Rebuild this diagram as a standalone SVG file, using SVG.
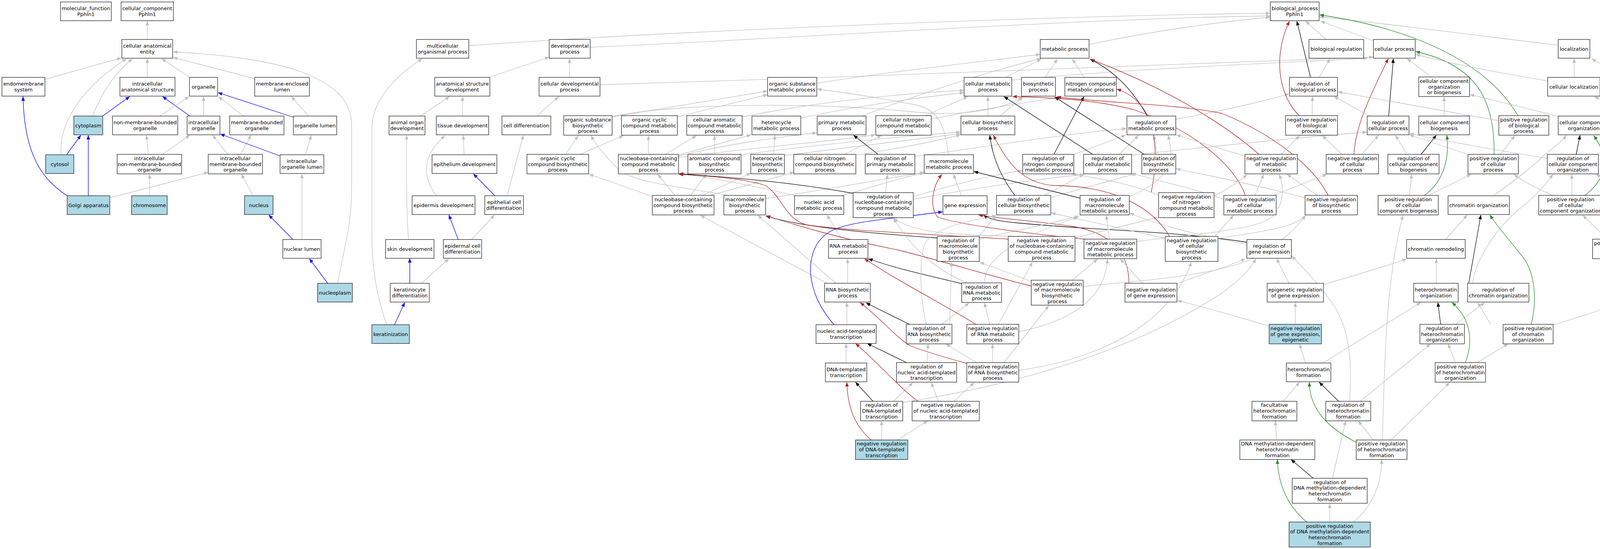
<svg xmlns="http://www.w3.org/2000/svg" width="4691" height="1405" viewBox="0 0 4691 1405">
<style>
text{font-family:'DejaVu Sans',Verdana,sans-serif;font-size:13px;text-anchor:middle;fill:#000}
.n rect{fill:#fff;stroke:#111;stroke-width:1.2}
.n.h rect{fill:#add8e6}
.e path{fill:none;stroke-width:1.3}
.e .g{stroke:#c0c0c0;marker-end:url(#ag)}
.e .b{stroke:#0000ff;marker-end:url(#ab)}
.e .k{stroke:#000;marker-end:url(#ak)}
.e .r{stroke:#b22222;marker-end:url(#ar)}
.e .v{stroke:#228b22;marker-end:url(#av)}
</style>
<defs>
<marker id="ag" viewBox="0 0 11 9" refX="11" refY="4.5" markerWidth="11" markerHeight="9" markerUnits="userSpaceOnUse" orient="auto"><path d="M0,0L11,4.5L0,9z" fill="#c0c0c0"/></marker>
<marker id="ab" viewBox="0 0 11 9" refX="11" refY="4.5" markerWidth="11" markerHeight="9" markerUnits="userSpaceOnUse" orient="auto"><path d="M0,0L11,4.5L0,9z" fill="#0000ff"/></marker>
<marker id="ak" viewBox="0 0 11 9" refX="11" refY="4.5" markerWidth="11" markerHeight="9" markerUnits="userSpaceOnUse" orient="auto"><path d="M0,0L11,4.5L0,9z" fill="#000"/></marker>
<marker id="ar" viewBox="0 0 11 9" refX="11" refY="4.5" markerWidth="11" markerHeight="9" markerUnits="userSpaceOnUse" orient="auto"><path d="M0,0L11,4.5L0,9z" fill="#b22222"/></marker>
<marker id="av" viewBox="0 0 11 9" refX="11" refY="4.5" markerWidth="11" markerHeight="9" markerUnits="userSpaceOnUse" orient="auto"><path d="M0,0L11,4.5L0,9z" fill="#228b22"/></marker>
</defs>
<rect width="4691" height="1405" fill="#fff"/>
<g id="connectors" class="e">
<path class="g" d="M377,101L377,54"/>
<path class="g" d="M115,203L311,148"/>
<path class="g" d="M156,395C150,300 230,210 324,150"/>
<path class="g" d="M237,297C255,250 285,195 339,150"/>
<path class="g" d="M377,198L377,150"/>
<path class="g" d="M485,198L414,150"/>
<path class="g" d="M652,201L443,147"/>
<path class="g" d="M864,725C890,600 900,560 900,480L900,320C900,260 860,220 782,188C700,155 560,138 443,133"/>
<path class="b" d="M263,297L332,247"/>
<path class="b" d="M486,297L416,247"/>
<path class="b" d="M172,501C110,460 62,400 59,247"/>
<path class="b" d="M171,395L207,346"/>
<path class="b" d="M226,501L226,346"/>
<path class="g" d="M409,297L484,247"/>
<path class="g" d="M521,297L521,247"/>
<path class="g" d="M623,297L559,247"/>
<path class="b" d="M751,300L558,237"/>
<path class="g" d="M790,297L746,247"/>
<path class="g" d="M380,395L375,346"/>
<path class="g" d="M416,395L486,346"/>
<path class="g" d="M583,395L544,346"/>
<path class="g" d="M616,395L643,346"/>
<path class="b" d="M717,399L564,343"/>
<path class="g" d="M782,396L797,346"/>
<path class="g" d="M282,506L533,441"/>
<path class="g" d="M383,501L383,446"/>
<path class="g" d="M648,501L618,446"/>
<path class="b" d="M750,613L688,550"/>
<path class="g" d="M773,613L773,445"/>
<path class="b" d="M839,725L792,662"/>
<path class="g" d="M1200,117C1700,80 2700,40 3252,34"/>
<path class="g" d="M1511,121C2000,100 2800,45 3252,41"/>
<path class="g" d="M1251,198L1406,146"/>
<path class="g" d="M1458,198L1458,150"/>
<path class="g" d="M1076,297L1151,247"/>
<path class="g" d="M1184,297L1184,247"/>
<path class="g" d="M1375,297L1430,247"/>
<path class="g" d="M1188,396L1186,346"/>
<path class="g" d="M1117,501C1080,450 1080,400 1139,347"/>
<path class="b" d="M1267,501L1212,445"/>
<path class="g" d="M1298,501L1340,346"/>
<path class="g" d="M1046,613C1040,550 1040,420 1041,346"/>
<path class="b" d="M1173,613L1149,550"/>
<path class="g" d="M1207,613L1266,550"/>
<path class="b" d="M1049,725L1049,661"/>
<path class="g" d="M1079,725L1149,662"/>
<path class="b" d="M1010,831L1036,774"/>
<path class="g" d="M990,831C965,760 952,690 952,600L952,330C952,250 1020,190 1081,150"/>
<path class="g" d="M1536,217C2200,195 3000,170 3516,146"/>
<path class="g" d="M2787,114C2950,80 3100,58 3252,44"/>
<path class="g" d="M2575,198L2666,151"/>
<path class="g" d="M2675,198L2707,151"/>
<path class="g" d="M2775,198L2745,151"/>
<path class="g" d="M2091,213C2300,180 2500,160 2663,139"/>
<path class="g" d="M2207,297C2300,260 2500,190 2665,150"/>
<path class="g" d="M2590,205C2900,175 3300,160 3502,149"/>
<path class="g" d="M1567,299L1965,233"/>
<path class="g" d="M1734,299L1965,242"/>
<path class="g" d="M2428,396C2420,320 2400,280 2346,269C2250,250 2150,235 2092,228"/>
<path class="g" d="M1900,299C2100,260 2300,240 2468,231"/>
<path class="g" d="M2050,302C2200,270 2350,250 2468,237"/>
<path class="g" d="M2366,297L2478,247"/>
<path class="g" d="M2384,305C2500,280 2650,260 2718,247"/>
<path class="g" d="M2529,297L2529,247"/>
<path class="g" d="M2560,297L2620,247"/>
<path class="g" d="M1567,298C1750,262 2100,262 2346,287C2450,297 2560,285 2618,248"/>
<path class="g" d="M1448,395L1480,347"/>
<path class="g" d="M1485,395C1530,375 1560,362 1596,347"/>
<path class="g" d="M1660,395L1660,347"/>
<path class="g" d="M1703,395L1783,347"/>
<path class="g" d="M1737,397L1923,345"/>
<path class="g" d="M1737,400C1850,370 2000,350 2091,340"/>
<path class="g" d="M1737,403C1950,375 2150,360 2241,345"/>
<path class="g" d="M1829,395L1829,347"/>
<path class="g" d="M1897,396C2100,370 2300,350 2459,338"/>
<path class="g" d="M1980,395L1984,346"/>
<path class="g" d="M2008,398C2200,375 2350,355 2459,342"/>
<path class="g" d="M2163,395L2257,346"/>
<path class="g" d="M2191,397C2300,380 2400,360 2459,345"/>
<path class="k" d="M2248,395L2185,346"/>
<path class="g" d="M2342,400C2500,380 2700,345 2884,329"/>
<path class="g" d="M1728,500L1684,446"/>
<path class="g" d="M1768,500L1808,446"/>
<path class="g" d="M1798,500L1922,443"/>
<path class="g" d="M1818,500L2033,441"/>
<path class="g" d="M1670,503C1620,485 1580,470 1508,446"/>
<path class="g" d="M1960,508C2150,480 2250,460 2366,441"/>
<path class="g" d="M1863,500C1750,478 1620,470 1580,430C1550,400 1525,370 1513,347"/>
<path class="g" d="M2038,501C1950,480 1850,460 1740,443"/>
<path class="g" d="M2152,501C2250,475 2300,455 2366,443"/>
<path class="g" d="M2155,613L2117,550"/>
<path class="g" d="M2170,725L2170,662"/>
<path class="g" d="M2117,725L1793,551"/>
<path class="g" d="M2140,725L1940,551"/>
<path class="g" d="M2168,831L2168,774"/>
<path class="b" d="M2135,831C2100,790 2080,750 2075,700C2073,650 2090,610 2130,590C2180,565 2300,558 2413,542"/>
<path class="g" d="M2166,929L2166,879"/>
<path class="k" d="M2235,1027L2190,978"/>
<path class="g" d="M2287,1027L2337,979"/>
<path class="r" d="M2230,1126C2200,1100 2170,1060 2168,978"/>
<path class="g" d="M2257,1126L2257,1077"/>
<path class="g" d="M2298,1126L2375,1077"/>
<path class="k" d="M2185,495C2050,470 1900,455 1738,445"/>
<path class="g" d="M2267,493L2272,446"/>
<path class="g" d="M2338,503C2450,470 2550,445 2617,437"/>
<path class="g" d="M2338,510C2500,480 2650,460 2775,446"/>
<path class="k" d="M2937,297C2900,230 2850,180 2790,151"/>
<path class="r" d="M3223,395C3150,330 3000,230 2792,152"/>
<path class="g" d="M3010,305C3150,280 3250,255 3300,240"/>
<path class="k" d="M2698,395L2775,247"/>
<path class="g" d="M2749,395L2882,346"/>
<path class="k" d="M2797,395L2570,247"/>
<path class="g" d="M2865,395L2915,346"/>
<path class="g" d="M2897,397C3100,375 3350,350 3499,338"/>
<path class="k" d="M2929,395L2700,248"/>
<path class="g" d="M2962,395L2954,346"/>
<path class="r" d="M2947,493C2970,380 2960,260 2859,228"/>
<path class="g" d="M2966,500C2900,470 2800,455 2745,445"/>
<path class="g" d="M3108,502C3150,480 3170,465 3193,447"/>
<path class="g" d="M2461,501L2441,446"/>
<path class="k" d="M2598,500C2560,450 2540,400 2534,346"/>
<path class="g" d="M2673,500L2775,446"/>
<path class="g" d="M2690,505L2909,444"/>
<path class="k" d="M2765,507L2493,439"/>
<path class="g" d="M2890,504C2990,460 3010,420 2990,346"/>
<path class="r" d="M3188,500C3160,420 3050,330 2900,280C2800,255 2700,250 2592,247"/>
<path class="r" d="M3400,500C3360,420 3250,340 3128,290C3000,265 2850,265 2705,248"/>
<path class="g" d="M3133,510C3050,480 2950,460 2897,443"/>
<path class="g" d="M3341,506C3200,470 3100,450 3011,432"/>
<path class="k" d="M3192,620C3000,590 2800,590 2600,570C2550,565 2530,560 2518,550"/>
<path class="g" d="M3192,625C3050,600 2950,570 2892,545"/>
<path class="r" d="M2890,725C2890,660 2860,600 2750,580C2650,565 2560,560 2505,550"/>
<path class="k" d="M2399,609C2200,595 2050,580 1961,553"/>
<path class="g" d="M2506,605L2550,551"/>
<path class="g" d="M2507,612C2600,590 2700,570 2762,553"/>
<path class="r" d="M2581,612C2400,600 2150,590 2063,575C2010,560 2000,500 1960,475C1900,455 1800,450 1738,446"/>
<path class="g" d="M2600,605C2450,600 2350,600 2287,559"/>
<path class="g" d="M2752,609L2964,556"/>
<path class="r" d="M2787,613C2650,600 2450,575 2400,555C2380,530 2385,480 2411,446"/>
<path class="g" d="M2840,612L2832,551"/>
<path class="g" d="M2910,618C3050,600 3200,590 3250,560C3285,530 3290,490 3275,446"/>
<path class="r" d="M2994,605C2950,530 2850,475 2700,475C2620,470 2580,420 2543,346"/>
<path class="g" d="M2983,610L2691,545"/>
<path class="g" d="M3118,610C3250,590 3320,580 3342,551"/>
<path class="g" d="M3110,605L3158,551"/>
<path class="k" d="M2462,726C2400,710 2300,690 2223,662"/>
<path class="g" d="M2475,724C2420,700 2350,660 2287,559"/>
<path class="g" d="M2520,724C2520,680 2560,620 2760,556"/>
<path class="r" d="M2640,732C2550,710 2400,665 2300,640C2150,610 2050,580 1961,552"/>
<path class="g" d="M2640,720L2508,671"/>
<path class="g" d="M2745,717L2810,663"/>
<path class="g" d="M2773,733C2950,715 3150,705 3250,640C3300,600 3330,570 3342,551"/>
<path class="g" d="M3013,726C3080,700 3150,680 3188,662"/>
<path class="g" d="M2925,725L2868,663"/>
<path class="g" d="M3249,834C3180,815 3100,790 3014,769"/>
<path class="k" d="M2330,831L2217,775"/>
<path class="g" d="M2410,831L2481,775"/>
<path class="g" d="M2431,831L2436,671"/>
<path class="g" d="M2371,831C2360,780 2350,700 2365,630C2380,590 2450,570 2550,552"/>
<path class="r" d="M2500,831C2400,770 2300,720 2213,662"/>
<path class="g" d="M2534,831L2520,775"/>
<path class="g" d="M2555,831L2643,671"/>
<path class="g" d="M2608,849C2750,820 2830,760 2835,663"/>
<path class="r" d="M2475,930C2420,915 2370,900 2330,885C2290,860 2260,820 2202,774"/>
<path class="g" d="M2500,928L2421,880"/>
<path class="g" d="M2541,928L2541,880"/>
<path class="g" d="M2570,928L2685,782"/>
<path class="g" d="M2608,948C2800,920 2990,840 3050,671"/>
<path class="k" d="M2321,928L2220,879"/>
<path class="g" d="M2373,928L2376,880"/>
<path class="r" d="M2350,1027C2300,990 2250,930 2190,879"/>
<path class="g" d="M2402,1027L2384,979"/>
<path class="g" d="M2442,1027L2494,979"/>
<path class="g" d="M2311,1030C2600,985 2900,900 3128,750C3170,720 3200,690 3215,662"/>
<path class="g" d="M3395,101L3342,54"/>
<path class="g" d="M3515,104L3381,54"/>
<path class="g" d="M3989,116C3700,80 3500,55 3378,43"/>
<path class="k" d="M3355,198L3320,54"/>
<path class="r" d="M3326,296C3270,240 3260,140 3301,54"/>
<path class="v" d="M3886,296C3800,150 3600,70 3378,38"/>
<path class="g" d="M3377,198L3405,150"/>
<path class="k" d="M3555,297L3567,150"/>
<path class="r" d="M3466,395C3470,320 3510,240 3554,150"/>
<path class="v" d="M3825,395C3825,280 3800,170 3624,132"/>
<path class="g" d="M3664,197L3602,150"/>
<path class="g" d="M3962,207C3800,180 3700,160 3624,139"/>
<path class="g" d="M3697,297L3697,248"/>
<path class="g" d="M3359,296L3360,247"/>
<path class="g" d="M3507,297L3415,247"/>
<path class="g" d="M3837,309L3425,235"/>
<path class="g" d="M3989,298C3900,275 3820,255 3763,242"/>
<path class="g" d="M3187,399C3120,380 3060,360 3011,345"/>
<path class="g" d="M3280,395L3327,347"/>
<path class="g" d="M3486,395L3529,346"/>
<path class="g" d="M3435,395L3385,347"/>
<path class="k" d="M3638,395L3677,346"/>
<path class="g" d="M3602,395L3572,346"/>
<path class="g" d="M3757,395L3608,345"/>
<path class="g" d="M3841,395L3878,347"/>
<path class="g" d="M3213,500L3235,446"/>
<path class="g" d="M3260,500L3397,446"/>
<path class="g" d="M3372,500L3295,446"/>
<path class="g" d="M3608,500L3614,446"/>
<path class="v" d="M3647,500C3700,460 3710,400 3704,346"/>
<path class="g" d="M3657,500L3766,446"/>
<path class="g" d="M3823,501C3880,460 3920,430 3950,400C3980,375 4000,360 4010,346"/>
<path class="g" d="M3961,405C3800,380 3700,360 3608,342"/>
<path class="g" d="M3975,500C3930,480 3900,465 3876,446"/>
<path class="g" d="M3701,613L3756,550"/>
<path class="g" d="M3677,725L3677,662"/>
<path class="k" d="M3760,725L3791,550"/>
<path class="g" d="M3770,725C3780,650 3850,560 3910,519C3940,490 3960,470 3975,446"/>
<path class="v" d="M3920,830C3935,770 3930,700 3900,660C3870,620 3840,590 3814,550"/>
<path class="g" d="M3300,725L3268,662"/>
<path class="g" d="M3388,728C3450,710 3520,690 3601,663"/>
<path class="g" d="M3316,830L3316,774"/>
<path class="g" d="M3455,1027C3460,950 3460,860 3420,790C3380,730 3340,690 3307,655"/>
<path class="g" d="M3539,1126C3545,900 3550,700 3592,551"/>
<path class="g" d="M4030,198L4030,150"/>
<path class="g" d="M4157,198L4075,150"/>
<path class="g" d="M4177,297L4082,247"/>
<path class="g" d="M4218,297L4208,247"/>
<path class="k" d="M4035,395L4045,346"/>
<path class="g" d="M4202,396L4107,346"/>
<path class="g" d="M4451,397L4299,346"/>
<path class="g" d="M4024,500L4024,446"/>
<path class="v" d="M4057,500C4110,460 4125,410 4080,347"/>
<path class="k" d="M4253,501L4249,445"/>
<path class="g" d="M4204,501L4085,446"/>
<path class="g" d="M4399,501L4297,445"/>
<path class="g" d="M4596,501L4543,445"/>
<path class="g" d="M4114,612L4052,551"/>
<path class="g" d="M4167,612L4224,550"/>
<path class="v" d="M4141,612C4140,540 4160,490 4209,445"/>
<path class="g" d="M4304,613L4272,550"/>
<path class="k" d="M4344,613L4416,550"/>
<path class="g" d="M4621,613L4621,550"/>
<path class="g" d="M4209,724L4167,663"/>
<path class="g" d="M4249,724L4294,662"/>
<path class="v" d="M4294,737C4380,715 4440,680 4445,550"/>
<path class="g" d="M3976,832L4159,774"/>
<path class="g" d="M3816,830L3783,774"/>
<path class="g" d="M4621,725L4621,662"/>
<path class="g" d="M4621,831L4621,774"/>
<path class="k" d="M3688,830L3681,774"/>
<path class="g" d="M3726,830L3801,774"/>
<path class="g" d="M3726,928L3707,880"/>
<path class="v" d="M3751,928C3770,880 3770,820 3717,774"/>
<path class="g" d="M3781,928L3861,880"/>
<path class="g" d="M3342,929L3327,880"/>
<path class="g" d="M3387,929L3637,774"/>
<path class="g" d="M3285,1027L3327,978"/>
<path class="k" d="M3427,1027L3377,978"/>
<path class="g" d="M3482,1027L3662,880"/>
<path class="g" d="M3268,1126L3265,1077"/>
<path class="k" d="M3362,1224L3305,1176"/>
<path class="g" d="M3411,1224L3445,1077"/>
<path class="v" d="M3472,1132C3390,1090 3352,1040 3352,978"/>
<path class="g" d="M3516,1126L3477,1077"/>
<path class="g" d="M3562,1126L3711,979"/>
<path class="v" d="M3345,1336C3290,1290 3272,1230 3270,1176"/>
<path class="g" d="M3404,1336L3404,1289"/>
<path class="g" d="M3465,1336C3520,1290 3537,1230 3537,1176"/>
</g>
<g id="n_mf" class="n"><rect x="155" y="5" width="130" height="48"/><text x="220" y="26.3">molecular_function</text><text x="220" y="41">Pphln1</text></g>
<g id="n_cc" class="n"><rect x="310" y="5" width="134" height="48"/><text x="377" y="26.3">cellular_component</text><text x="377" y="41">Pphln1</text></g>
<g id="n_cae" class="n"><rect x="312" y="101" width="130" height="48"/><text x="377" y="122.3">cellular anatomical</text><text x="377" y="137">entity</text></g>
<g id="n_endo" class="n"><rect x="5" y="198" width="110" height="48"/><text x="60" y="219.3">endomembrane</text><text x="60" y="234">system</text></g>
<g id="n_ias" class="n"><rect x="307" y="198" width="141" height="48"/><text x="377.5" y="219.3">intracellular</text><text x="377.5" y="234">anatomical structure</text></g>
<g id="n_org" class="n"><rect x="485" y="198" width="72" height="48"/><text x="521" y="226.6">organelle</text></g>
<g id="n_mel" class="n"><rect x="652" y="198" width="140" height="48"/><text x="722" y="219.3">membrane-enclosed</text><text x="722" y="234">lumen</text></g>
<g id="n_cyto" class="n h"><rect x="189" y="297" width="74" height="48"/><text x="226" y="325.6">cytoplasm</text></g>
<g id="n_nmbo" class="n"><rect x="288" y="297" width="167" height="48"/><text x="371.5" y="318.3">non-membrane-bounded</text><text x="371.5" y="333">organelle</text></g>
<g id="n_io" class="n"><rect x="479" y="297" width="84" height="48"/><text x="521" y="318.3">intracellular</text><text x="521" y="333">organelle</text></g>
<g id="n_mbo" class="n"><rect x="588" y="297" width="139" height="48"/><text x="657.5" y="318.3">membrane-bounded</text><text x="657.5" y="333">organelle</text></g>
<g id="n_ol" class="n"><rect x="751" y="297" width="111" height="48"/><text x="806.5" y="325.6">organelle lumen</text></g>
<g id="n_cytosol" class="n h"><rect x="117" y="396" width="72" height="48"/><text x="153" y="424.6">cytosol</text></g>
<g id="n_inmbo" class="n"><rect x="300" y="395" width="165" height="50"/><text x="382.5" y="409.9">intracellular</text><text x="382.5" y="424.6">non-membrane-bounded</text><text x="382.5" y="439.3">organelle</text></g>
<g id="n_imbo" class="n"><rect x="533" y="395" width="139" height="50"/><text x="602.5" y="409.9">intracellular</text><text x="602.5" y="424.6">membrane-bounded</text><text x="602.5" y="439.3">organelle</text></g>
<g id="n_iol" class="n"><rect x="717" y="396" width="112" height="48"/><text x="773" y="417.3">intracellular</text><text x="773" y="432">organelle lumen</text></g>
<g id="n_golgi" class="n h"><rect x="172" y="501" width="109" height="48"/><text x="226.5" y="529.6">Golgi apparatus</text></g>
<g id="n_chrom" class="n h"><rect x="337" y="501" width="91" height="48"/><text x="382.5" y="529.6">chromosome</text></g>
<g id="n_nucleus" class="n h"><rect x="626" y="501" width="73" height="48"/><text x="662.5" y="529.6">nucleus</text></g>
<g id="n_nl" class="n"><rect x="724" y="613" width="98" height="48"/><text x="773" y="641.6">nuclear lumen</text></g>
<g id="n_np" class="n h"><rect x="813" y="725" width="89" height="48"/><text x="857.5" y="753.6">nucleoplasm</text></g>
<g id="n_mop" class="n"><rect x="1066" y="101" width="134" height="48"/><text x="1133" y="122.3">multicellular</text><text x="1133" y="137">organismal process</text></g>
<g id="n_dp" class="n"><rect x="1406" y="101" width="105" height="48"/><text x="1458.5" y="122.3">developmental</text><text x="1458.5" y="137">process</text></g>
<g id="n_asd" class="n"><rect x="1113" y="198" width="141" height="48"/><text x="1183.5" y="219.3">anatomical structure</text><text x="1183.5" y="234">development</text></g>
<g id="n_cdp" class="n"><rect x="1380" y="198" width="156" height="48"/><text x="1458" y="219.3">cellular developmental</text><text x="1458" y="234">process</text></g>
<g id="n_aod" class="n"><rect x="996" y="297" width="92" height="48"/><text x="1042" y="318.3">animal organ</text><text x="1042" y="333">development</text></g>
<g id="n_td" class="n"><rect x="1117" y="297" width="134" height="48"/><text x="1184" y="325.6">tissue development</text></g>
<g id="n_cd" class="n"><rect x="1285" y="297" width="125" height="48"/><text x="1347.5" y="325.6">cell differentiation</text></g>
<g id="n_osbp" class="n"><rect x="1443" y="296" width="124" height="50"/><text x="1505" y="310.9">organic substance</text><text x="1505" y="325.6">biosynthetic</text><text x="1505" y="340.3">process</text></g>
<g id="n_occbp" class="n"><rect x="1349" y="395" width="158" height="50"/><text x="1428" y="409.9">organic cyclic</text><text x="1428" y="424.6">compound biosynthetic</text><text x="1428" y="439.3">process</text></g>
<g id="n_epd" class="n"><rect x="1106" y="396" width="166" height="48"/><text x="1189" y="424.6">epithelium development</text></g>
<g id="n_edev" class="n"><rect x="1055" y="501" width="161" height="48"/><text x="1135.5" y="529.6">epidermis development</text></g>
<g id="n_ecd" class="n"><rect x="1241" y="501" width="99" height="48"/><text x="1290.5" y="522.3">epithelial cell</text><text x="1290.5" y="537">differentiation</text></g>
<g id="n_sd" class="n"><rect x="987" y="613" width="124" height="48"/><text x="1049" y="641.6">skin development</text></g>
<g id="n_epcd" class="n"><rect x="1135" y="613" width="98" height="48"/><text x="1184" y="634.3">epidermal cell</text><text x="1184" y="649">differentiation</text></g>
<g id="n_kd" class="n"><rect x="999" y="725" width="100" height="48"/><text x="1049" y="746.3">keratinocyte</text><text x="1049" y="761">differentiation</text></g>
<g id="n_ker" class="n h"><rect x="952" y="831" width="96" height="48"/><text x="1000" y="859.6">keratinization</text></g>
<g id="n_osmp" class="n"><rect x="1965" y="198" width="126" height="48"/><text x="2028" y="219.3">organic substance</text><text x="2028" y="234">metabolic process</text></g>
<g id="n_occmp" class="n"><rect x="1591" y="296" width="143" height="50"/><text x="1662.5" y="310.9">organic cyclic</text><text x="1662.5" y="325.6">compound metabolic</text><text x="1662.5" y="340.3">process</text></g>
<g id="n_cacmp" class="n"><rect x="1758" y="296" width="142" height="50"/><text x="1829" y="310.9">cellular aromatic</text><text x="1829" y="325.6">compound metabolic</text><text x="1829" y="340.3">process</text></g>
<g id="n_hmp" class="n"><rect x="1925" y="297" width="125" height="48"/><text x="1987.5" y="318.3">heterocycle</text><text x="1987.5" y="333">metabolic process</text></g>
<g id="n_pmp" class="n"><rect x="2092" y="297" width="125" height="48"/><text x="2154.5" y="318.3">primary metabolic</text><text x="2154.5" y="333">process</text></g>
<g id="n_cncmp" class="n"><rect x="2242" y="296" width="142" height="50"/><text x="2313" y="310.9">cellular nitrogen</text><text x="2313" y="325.6">compound metabolic</text><text x="2313" y="340.3">process</text></g>
<g id="n_nccmp" class="n"><rect x="1583" y="395" width="154" height="50"/><text x="1660" y="409.9">nucleobase-containing</text><text x="1660" y="424.6">compound metabolic</text><text x="1660" y="439.3">process</text></g>
<g id="n_acbp" class="n"><rect x="1761" y="395" width="136" height="50"/><text x="1829" y="409.9">aromatic compound</text><text x="1829" y="424.6">biosynthetic</text><text x="1829" y="439.3">process</text></g>
<g id="n_hbp" class="n"><rect x="1922" y="395" width="86" height="50"/><text x="1965" y="409.9">heterocycle</text><text x="1965" y="424.6">biosynthetic</text><text x="1965" y="439.3">process</text></g>
<g id="n_cncbp" class="n"><rect x="2032" y="395" width="159" height="50"/><text x="2111.5" y="409.9">cellular nitrogen</text><text x="2111.5" y="424.6">compound biosynthetic</text><text x="2111.5" y="439.3">process</text></g>
<g id="n_rpmp" class="n"><rect x="2215" y="395" width="127" height="50"/><text x="2278.5" y="409.9">regulation of</text><text x="2278.5" y="424.6">primary metabolic</text><text x="2278.5" y="439.3">process</text></g>
<g id="n_nccbp" class="n"><rect x="1670" y="500" width="158" height="50"/><text x="1749" y="514.9">nucleobase-containing</text><text x="1749" y="529.6">compound biosynthetic</text><text x="1749" y="544.3">process</text></g>
<g id="n_mbp" class="n"><rect x="1853" y="500" width="107" height="50"/><text x="1906.5" y="514.9">macromolecule</text><text x="1906.5" y="529.6">biosynthetic</text><text x="1906.5" y="544.3">process</text></g>
<g id="n_namp" class="n"><rect x="2034" y="501" width="126" height="48"/><text x="2097" y="522.3">nucleic acid</text><text x="2097" y="537">metabolic process</text></g>
<g id="n_rnccmp" class="n"><rect x="2184" y="493" width="154" height="64"/><text x="2261" y="507.6">regulation of</text><text x="2261" y="522.3">nucleobase-containing</text><text x="2261" y="537">compound metabolic</text><text x="2261" y="551.7">process</text></g>
<g id="n_rnamp" class="n"><rect x="2121" y="613" width="101" height="48"/><text x="2171.5" y="634.3">RNA metabolic</text><text x="2171.5" y="649">process</text></g>
<g id="n_rnabp" class="n"><rect x="2111" y="725" width="117" height="48"/><text x="2169.5" y="746.3">RNA biosynthetic</text><text x="2169.5" y="761">process</text></g>
<g id="n_natt" class="n"><rect x="2089" y="831" width="154" height="48"/><text x="2166" y="852.3">nucleic acid-templated</text><text x="2166" y="867">transcription</text></g>
<g id="n_dtt" class="n"><rect x="2113" y="929" width="106" height="48"/><text x="2166" y="950.3">DNA-templated</text><text x="2166" y="965">transcription</text></g>
<g id="n_rdtt" class="n"><rect x="2203" y="1027" width="108" height="50"/><text x="2257" y="1041.4">regulation of</text><text x="2257" y="1056.1">DNA-templated</text><text x="2257" y="1070.8">transcription</text></g>
<g id="n_nrdtt" class="n h"><rect x="2190" y="1126" width="134" height="50"/><text x="2257" y="1140.4">negative regulation</text><text x="2257" y="1155.1">of DNA-templated</text><text x="2257" y="1169.8">transcription</text></g>
<g id="n_mp" class="n"><rect x="2663" y="101" width="125" height="48"/><text x="2725.5" y="129.6">metabolic process</text></g>
<g id="n_cmp" class="n"><rect x="2468" y="198" width="122" height="48"/><text x="2529" y="219.3">cellular metabolic</text><text x="2529" y="234">process</text></g>
<g id="n_biop" class="n"><rect x="2615" y="198" width="87" height="48"/><text x="2658.5" y="219.3">biosynthetic</text><text x="2658.5" y="234">process</text></g>
<g id="n_ncmp" class="n"><rect x="2726" y="198" width="132" height="48"/><text x="2792" y="219.3">nitrogen compound</text><text x="2792" y="234">metabolic process</text></g>
<g id="n_cbp" class="n"><rect x="2460" y="297" width="138" height="48"/><text x="2529" y="318.3">cellular biosynthetic</text><text x="2529" y="333">process</text></g>
<g id="n_rmp" class="n"><rect x="2885" y="297" width="125" height="48"/><text x="2947.5" y="318.3">regulation of</text><text x="2947.5" y="333">metabolic process</text></g>
<g id="n_mmp" class="n"><rect x="2366" y="396" width="126" height="48"/><text x="2429" y="417.3">macromolecule</text><text x="2429" y="432">metabolic process</text></g>
<g id="n_rncmp" class="n"><rect x="2618" y="395" width="131" height="50"/><text x="2683.5" y="409.9">regulation of</text><text x="2683.5" y="424.6">nitrogen compound</text><text x="2683.5" y="439.3">metabolic process</text></g>
<g id="n_rcmp" class="n"><rect x="2774" y="395" width="123" height="50"/><text x="2835.5" y="409.9">regulation of</text><text x="2835.5" y="424.6">cellular metabolic</text><text x="2835.5" y="439.3">process</text></g>
<g id="n_rbiop" class="n"><rect x="2923" y="395" width="87" height="50"/><text x="2966.5" y="409.9">regulation of</text><text x="2966.5" y="424.6">biosynthetic</text><text x="2966.5" y="439.3">process</text></g>
<g id="n_ge" class="n"><rect x="2414" y="501" width="113" height="48"/><text x="2470.5" y="529.6">gene expression</text></g>
<g id="n_rcbp" class="n"><rect x="2551" y="500" width="139" height="50"/><text x="2620.5" y="514.9">regulation of</text><text x="2620.5" y="529.6">cellular biosynthetic</text><text x="2620.5" y="544.3">process</text></g>
<g id="n_rmmp" class="n"><rect x="2765" y="500" width="126" height="50"/><text x="2828" y="514.9">regulation of</text><text x="2828" y="529.6">macromolecule</text><text x="2828" y="544.3">metabolic process</text></g>
<g id="n_nrncmp" class="n"><rect x="2966" y="493" width="142" height="64"/><text x="3037" y="507.6">negative regulation</text><text x="3037" y="522.3">of nitrogen</text><text x="3037" y="537">compound metabolic</text><text x="3037" y="551.7">process</text></g>
<g id="n_rmbp" class="n"><rect x="2399" y="605" width="108" height="64"/><text x="2453" y="619.6">regulation of</text><text x="2453" y="634.3">macromolecule</text><text x="2453" y="649">biosynthetic</text><text x="2453" y="663.7">process</text></g>
<g id="n_nrnccmp" class="n"><rect x="2581" y="605" width="171" height="64"/><text x="2666.5" y="619.6">negative regulation</text><text x="2666.5" y="634.3">of nucleobase-containing</text><text x="2666.5" y="649">compound metabolic</text><text x="2666.5" y="663.7">process</text></g>
<g id="n_nrmmp" class="n"><rect x="2775" y="612" width="135" height="50"/><text x="2842.5" y="626.9">negative regulation</text><text x="2842.5" y="641.6">of macromolecule</text><text x="2842.5" y="656.3">metabolic process</text></g>
<g id="n_nrcbp" class="n"><rect x="2983" y="605" width="135" height="64"/><text x="3050.5" y="619.6">negative regulation</text><text x="3050.5" y="634.3">of cellular</text><text x="3050.5" y="649">biosynthetic</text><text x="3050.5" y="663.7">process</text></g>
<g id="n_rrmp" class="n"><rect x="2462" y="724" width="102" height="50"/><text x="2513" y="738.9">regulation of</text><text x="2513" y="753.6">RNA metabolic</text><text x="2513" y="768.3">process</text></g>
<g id="n_nrmbp" class="n"><rect x="2640" y="717" width="133" height="64"/><text x="2706.5" y="731.6">negative regulation</text><text x="2706.5" y="746.3">of macromolecule</text><text x="2706.5" y="761">biosynthetic</text><text x="2706.5" y="775.7">process</text></g>
<g id="n_nrge" class="n"><rect x="2880" y="725" width="133" height="48"/><text x="2946.5" y="746.3">negative regulation</text><text x="2946.5" y="761">of gene expression</text></g>
<g id="n_rrbp" class="n"><rect x="2320" y="830" width="117" height="50"/><text x="2378.5" y="844.9">regulation of</text><text x="2378.5" y="859.6">RNA biosynthetic</text><text x="2378.5" y="874.3">process</text></g>
<g id="n_nrrmp" class="n"><rect x="2475" y="830" width="133" height="50"/><text x="2541.5" y="844.9">negative regulation</text><text x="2541.5" y="859.6">of RNA metabolic</text><text x="2541.5" y="874.3">process</text></g>
<g id="n_rnatt" class="n"><rect x="2295" y="928" width="154" height="50"/><text x="2372" y="942.9">regulation of</text><text x="2372" y="957.6">nucleic acid-templated</text><text x="2372" y="972.3">transcription</text></g>
<g id="n_nrrbp" class="n"><rect x="2475" y="928" width="133" height="50"/><text x="2541.5" y="942.9">negative regulation</text><text x="2541.5" y="957.6">of RNA biosynthetic</text><text x="2541.5" y="972.3">process</text></g>
<g id="n_nrnatt" class="n"><rect x="2335" y="1027" width="172" height="50"/><text x="2421" y="1041.4">negative regulation</text><text x="2421" y="1056.1">of nucleic acid-templated</text><text x="2421" y="1070.8">transcription</text></g>
<g id="n_bp" class="n"><rect x="3252" y="5" width="125" height="48"/><text x="3314.5" y="26.3">biological_process</text><text x="3314.5" y="41">Pphln1</text></g>
<g id="n_br" class="n"><rect x="3351" y="101" width="140" height="48"/><text x="3421" y="129.6">biological regulation</text></g>
<g id="n_cp" class="n"><rect x="3516" y="101" width="107" height="48"/><text x="3569.5" y="129.6">cellular process</text></g>
<g id="n_rbp" class="n"><rect x="3301" y="198" width="123" height="48"/><text x="3362.5" y="219.3">regulation of</text><text x="3362.5" y="234">biological process</text></g>
<g id="n_ccob" class="n"><rect x="3632" y="197" width="130" height="50"/><text x="3697" y="211.9">cellular component</text><text x="3697" y="226.6">organization</text><text x="3697" y="241.3">or biogenesis</text></g>
<g id="n_nrbp" class="n"><rect x="3291" y="296" width="133" height="50"/><text x="3357.5" y="310.9">negative regulation</text><text x="3357.5" y="325.6">of biological</text><text x="3357.5" y="340.3">process</text></g>
<g id="n_rcp" class="n"><rect x="3500" y="297" width="107" height="48"/><text x="3553.5" y="318.3">regulation of</text><text x="3553.5" y="333">cellular process</text></g>
<g id="n_ccb" class="n"><rect x="3632" y="297" width="130" height="48"/><text x="3697" y="318.3">cellular component</text><text x="3697" y="333">biogenesis</text></g>
<g id="n_prbp" class="n"><rect x="3837" y="296" width="128" height="50"/><text x="3901" y="310.9">positive regulation</text><text x="3901" y="325.6">of biological</text><text x="3901" y="340.3">process</text></g>
<g id="n_nrmp" class="n"><rect x="3187" y="395" width="134" height="50"/><text x="3254" y="409.9">negative regulation</text><text x="3254" y="424.6">of metabolic</text><text x="3254" y="439.3">process</text></g>
<g id="n_nrcp" class="n"><rect x="3395" y="395" width="134" height="50"/><text x="3462" y="409.9">negative regulation</text><text x="3462" y="424.6">of cellular</text><text x="3462" y="439.3">process</text></g>
<g id="n_rccb" class="n"><rect x="3553" y="395" width="131" height="50"/><text x="3618.5" y="409.9">regulation of</text><text x="3618.5" y="424.6">cellular component</text><text x="3618.5" y="439.3">biogenesis</text></g>
<g id="n_prcp" class="n"><rect x="3758" y="395" width="129" height="50"/><text x="3822.5" y="409.9">positive regulation</text><text x="3822.5" y="424.6">of cellular</text><text x="3822.5" y="439.3">process</text></g>
<g id="n_nrcmp" class="n"><rect x="3133" y="500" width="134" height="50"/><text x="3200" y="514.9">negative regulation</text><text x="3200" y="529.6">of cellular</text><text x="3200" y="544.3">metabolic process</text></g>
<g id="n_nrbiop" class="n"><rect x="3341" y="500" width="134" height="50"/><text x="3408" y="514.9">negative regulation</text><text x="3408" y="529.6">of biosynthetic</text><text x="3408" y="544.3">process</text></g>
<g id="n_prccb" class="n"><rect x="3528" y="500" width="154" height="50"/><text x="3605" y="514.9">positive regulation</text><text x="3605" y="529.6">of cellular</text><text x="3605" y="544.3">component biogenesis</text></g>
<g id="n_chro" class="n"><rect x="3707" y="501" width="157" height="48"/><text x="3785.5" y="529.6">chromatin organization</text></g>
<g id="n_rge" class="n"><rect x="3192" y="613" width="114" height="48"/><text x="3249" y="634.3">regulation of</text><text x="3249" y="649">gene expression</text></g>
<g id="n_cr" class="n"><rect x="3601" y="613" width="150" height="48"/><text x="3676" y="641.6">chromatin remodeling</text></g>
<g id="n_erge" class="n"><rect x="3244" y="725" width="144" height="48"/><text x="3316" y="746.3">epigenetic regulation</text><text x="3316" y="761">of gene expression</text></g>
<g id="n_ho" class="n"><rect x="3619" y="725" width="114" height="48"/><text x="3676" y="746.3">heterochromatin</text><text x="3676" y="761">organization</text></g>
<g id="n_rchro" class="n"><rect x="3757" y="725" width="157" height="48"/><text x="3835.5" y="746.3">regulation of</text><text x="3835.5" y="761">chromatin organization</text></g>
<g id="n_nrgee" class="n h"><rect x="3249" y="830" width="134" height="50"/><text x="3316" y="844.9">negative regulation</text><text x="3316" y="859.6">of gene expression,</text><text x="3316" y="874.3">epigenetic</text></g>
<g id="n_rho" class="n"><rect x="3635" y="830" width="114" height="50"/><text x="3692" y="844.9">regulation of</text><text x="3692" y="859.6">heterochromatin</text><text x="3692" y="874.3">organization</text></g>
<g id="n_prchro" class="n"><rect x="3848" y="830" width="128" height="50"/><text x="3912" y="844.9">positive regulation</text><text x="3912" y="859.6">of chromatin</text><text x="3912" y="874.3">organization</text></g>
<g id="n_hf" class="n"><rect x="3293" y="929" width="114" height="48"/><text x="3350" y="950.3">heterochromatin</text><text x="3350" y="965">formation</text></g>
<g id="n_prho" class="n"><rect x="3674" y="928" width="129" height="50"/><text x="3738.5" y="942.9">positive regulation</text><text x="3738.5" y="957.6">of heterochromatin</text><text x="3738.5" y="972.3">organization</text></g>
<g id="n_fhf" class="n"><rect x="3205" y="1027" width="115" height="50"/><text x="3262.5" y="1041.4">facultative</text><text x="3262.5" y="1056.1">heterochromatin</text><text x="3262.5" y="1070.8">formation</text></g>
<g id="n_rhf" class="n"><rect x="3394" y="1027" width="115" height="50"/><text x="3451.5" y="1041.4">regulation of</text><text x="3451.5" y="1056.1">heterochromatin</text><text x="3451.5" y="1070.8">formation</text></g>
<g id="n_dmhf" class="n"><rect x="3174" y="1126" width="192" height="50"/><text x="3270" y="1140.4">DNA methylation-dependent</text><text x="3270" y="1155.1">heterochromatin</text><text x="3270" y="1169.8">formation</text></g>
<g id="n_prhf" class="n"><rect x="3472" y="1126" width="130" height="50"/><text x="3537" y="1140.4">positive regulation</text><text x="3537" y="1155.1">of heterochromatin</text><text x="3537" y="1169.8">formation</text></g>
<g id="n_rdmhf" class="n"><rect x="3308" y="1224" width="192" height="64"/><text x="3404" y="1238.6">regulation of</text><text x="3404" y="1253.3">DNA methylation-dependent</text><text x="3404" y="1268">heterochromatin</text><text x="3404" y="1282.7">formation</text></g>
<g id="n_prdmhf" class="n h"><rect x="3300" y="1336" width="208" height="64"/><text x="3404" y="1350.6">positive regulation</text><text x="3404" y="1365.3">of DNA methylation-dependent</text><text x="3404" y="1380">heterochromatin</text><text x="3404" y="1394.7">formation</text></g>
<g id="n_loc" class="n"><rect x="3989" y="101" width="81" height="48"/><text x="4029.5" y="129.6">localization</text></g>
<g id="n_cl" class="n"><rect x="3962" y="198" width="134" height="48"/><text x="4029" y="226.6">cellular localization</text></g>
<g id="n_ml" class="n"><rect x="4145" y="198" width="108" height="48"/><text x="4199" y="219.3">macromolecule</text><text x="4199" y="234">localization</text></g>
<g id="n_cco" class="n"><rect x="3989" y="297" width="131" height="48"/><text x="4054.5" y="318.3">cellular component</text><text x="4054.5" y="333">organization</text></g>
<g id="n_cml" class="n"><rect x="4145" y="297" width="159" height="48"/><text x="4224.5" y="318.3">cellular macromolecule</text><text x="4224.5" y="333">localization</text></g>
<g id="n_rcco" class="n"><rect x="3961" y="395" width="131" height="50"/><text x="4026.5" y="409.9">regulation of</text><text x="4026.5" y="424.6">cellular component</text><text x="4026.5" y="439.3">organization</text></g>
<g id="n_oo" class="n"><rect x="4171" y="396" width="152" height="48"/><text x="4247" y="424.6">organelle organization</text></g>
<g id="n_pl" class="n"><rect x="4451" y="396" width="131" height="48"/><text x="4516.5" y="424.6">protein localization</text></g>
<g id="n_prcco" class="n"><rect x="3939" y="500" width="164" height="50"/><text x="4021" y="514.9">positive regulation</text><text x="4021" y="529.6">of cellular</text><text x="4021" y="544.3">component organization</text></g>
<g id="n_roo" class="n"><rect x="4179" y="501" width="152" height="48"/><text x="4255" y="522.3">regulation of</text><text x="4255" y="537">organelle organization</text></g>
<g id="n_chrmo" class="n"><rect x="4355" y="501" width="176" height="48"/><text x="4443" y="529.6">chromosome organization</text></g>
<g id="n_plo" class="n"><rect x="4555" y="501" width="132" height="48"/><text x="4621" y="522.3">protein localization</text><text x="4621" y="537">to organelle</text></g>
<g id="n_proo" class="n"><rect x="4077" y="612" width="128" height="50"/><text x="4141" y="626.9">positive regulation</text><text x="4141" y="641.6">of organelle</text><text x="4141" y="656.3">organization</text></g>
<g id="n_rchrmo" class="n"><rect x="4229" y="613" width="177" height="48"/><text x="4317.5" y="634.3">regulation of</text><text x="4317.5" y="649">chromosome organization</text></g>
<g id="n_plc" class="n"><rect x="4555" y="613" width="132" height="48"/><text x="4621" y="634.3">protein localization</text><text x="4621" y="649">to chromosome</text></g>
<g id="n_prchrmo" class="n"><rect x="4165" y="724" width="129" height="50"/><text x="4229.5" y="738.9">positive regulation</text><text x="4229.5" y="753.6">of chromosome</text><text x="4229.5" y="768.3">organization</text></g>
<g id="n_plch" class="n"><rect x="4555" y="725" width="132" height="48"/><text x="4621" y="746.3">protein localization</text><text x="4621" y="761">to chromatin</text></g>
<g id="n_plh" class="n h"><rect x="4555" y="831" width="132" height="48"/><text x="4621" y="852.3">protein localization</text><text x="4621" y="867">to heterochromatin</text></g>
</svg>
